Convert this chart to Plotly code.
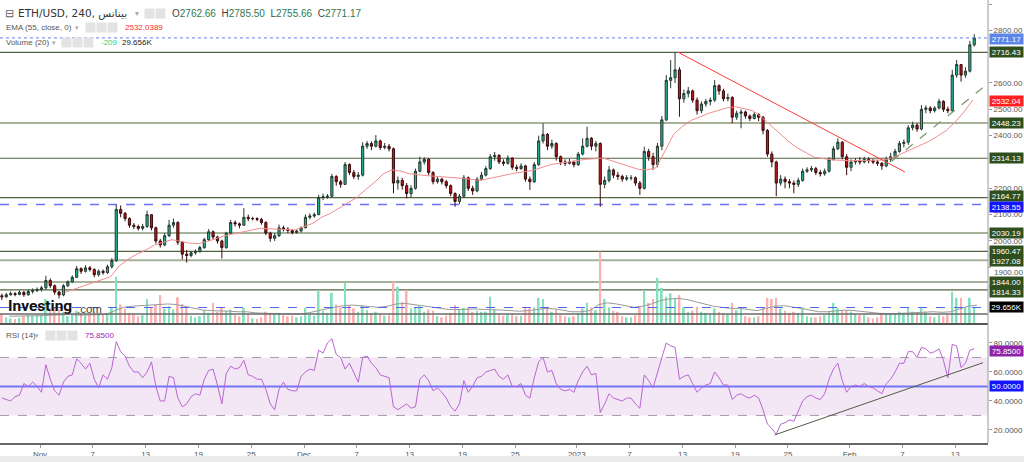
import plotly.graph_objects as go
import pandas as pd

# ---------------- data (12h candles) ----------------
first_open = 1792
closes = [
    1788,
    1796, 1800, 1797, 1805, 1796, 1808, 1812, 1816,                     # Oct 28-31
    1822, 1850, 1830, 1806, 1795, 1830, 1845, 1862, 1895, 1885,         # Nov 1-5
    1898, 1892, 1872, 1885, 1880, 1902, 1926, 2120, 2105, 2085,         # Nov 6-10
    2060, 2055, 2048, 2055, 2100, 2050, 2000, 1985, 2020, 2060,         # Nov 11-15
    2070, 1995, 1950, 1945, 1955, 1960, 1975, 2005, 2035, 2015,         # Nov 16-20
    2000, 1975, 2030, 2070, 2065, 2060, 2090, 2085, 2085, 2082,         # Nov 21-25
    2070, 2030, 2010, 2020, 2050, 2045, 2040, 2032, 2038, 2050,         # Nov 26-30
    2090, 2095, 2100, 2165, 2168, 2170, 2245, 2225, 2215, 2290,         # Dec 1-5
    2260, 2245, 2250, 2360, 2370, 2360, 2380, 2355, 2360, 2350,         # Dec 6-10
    2220, 2230, 2210, 2180, 2200, 2265, 2300, 2310, 2260, 2225,         # Dec 11-15
    2235, 2225, 2210, 2180, 2150, 2170, 2240, 2200, 2190, 2235,         # Dec 16-20
    2250, 2275, 2320, 2325, 2300, 2295, 2315, 2280, 2275, 2285,         # Dec 21-25
    2235, 2225, 2290, 2380, 2405, 2360, 2370, 2320, 2300, 2295,         # Dec 26-30
    2300, 2290, 2330, 2360, 2390, 2360, 2370, 2215, 2230, 2270,         # Dec 31-Jan 4
    2250, 2245, 2235, 2240, 2240, 2220, 2200, 2340, 2320, 2290,         # Jan 5-9
    2360, 2460, 2610, 2620, 2650, 2540, 2560, 2570, 2535, 2495,         # Jan 10-14
    2520, 2530, 2535, 2590, 2570, 2540, 2545, 2470, 2485, 2490,         # Jan 15-19
    2475, 2465, 2480, 2470, 2420, 2330, 2300, 2220, 2235, 2225,         # Jan 20-24
    2220, 2215, 2230, 2265, 2270, 2275, 2260, 2255, 2265, 2310,         # Jan 25-29
    2350, 2375, 2320, 2280, 2300, 2305, 2300, 2310, 2305, 2300,         # Jan 30-Feb 3
    2295, 2285, 2310, 2320, 2340, 2370, 2375, 2430, 2440, 2425,         # Feb 4-8
    2500, 2505, 2495, 2505, 2530, 2500, 2495, 2630, 2670, 2630,         # Feb 9-13
    2645, 2745, 2771.17,                                                # Feb 14-15
]
highs = [
    1800,
    1803, 1808, 1806, 1812, 1810, 1815, 1820, 1824,
    1830, 1868, 1858, 1835, 1810, 1836, 1850, 1870, 1905, 1900,
    1908, 1905, 1895, 1892, 1892, 1910, 1935, 2137, 2135, 2110,
    2090, 2068, 2062, 2065, 2115, 2102, 2055, 2008, 2030, 2080,
    2085, 2075, 2000, 1965, 1962, 1968, 1982, 2012, 2045, 2040,
    2020, 2005, 2035, 2080, 2078, 2070, 2125, 2100, 2092, 2090,
    2088, 2075, 2035, 2030, 2062, 2058, 2052, 2045, 2045, 2055,
    2100, 2105, 2108, 2175, 2180, 2178, 2255, 2250, 2232, 2300,
    2295, 2270, 2262, 2375, 2380, 2378, 2402, 2385, 2372, 2368,
    2355, 2245, 2240, 2220, 2212, 2275, 2320, 2318, 2315, 2265,
    2245, 2240, 2232, 2215, 2185, 2178, 2250, 2245, 2210, 2242,
    2262, 2285, 2330, 2338, 2330, 2310, 2325, 2318, 2290, 2295,
    2290, 2245, 2300, 2400, 2447, 2410, 2385, 2375, 2325, 2310,
    2312, 2305, 2338, 2390, 2434, 2395, 2380, 2375, 2245, 2285,
    2275, 2262, 2252, 2250, 2250, 2245, 2228, 2358, 2350, 2335,
    2372, 2475, 2630, 2687, 2717, 2660, 2575, 2585, 2575, 2545,
    2530, 2540, 2545, 2611, 2595, 2578, 2560, 2550, 2495, 2500,
    2495, 2480, 2490, 2485, 2475, 2425, 2340, 2305, 2250, 2245,
    2235, 2230, 2240, 2275, 2280, 2285, 2282, 2270, 2275, 2318,
    2360, 2390, 2380, 2330, 2310, 2315, 2318, 2320, 2318, 2312,
    2308, 2300, 2320, 2335, 2350, 2380, 2385, 2440, 2453, 2448,
    2516, 2515, 2512, 2512, 2540, 2535, 2510, 2650, 2687, 2672,
    2660, 2760, 2785.5,
]
lows = [
    1776,
    1784, 1792, 1790, 1794, 1788, 1792, 1800, 1806,
    1808, 1815, 1822, 1796, 1782, 1790, 1825, 1840, 1860, 1875,
    1880, 1884, 1862, 1865, 1872, 1875, 1895, 1920, 2090, 2075,
    2050, 2045, 2040, 2040, 2050, 2040, 1990, 1975, 1980, 2015,
    2050, 1985, 1930, 1918, 1938, 1948, 1955, 1970, 2000, 2005,
    1990, 1934, 1970, 2025, 2055, 2048, 2058, 2075, 2078, 2075,
    2062, 2022, 1997, 2000, 2015, 2036, 2030, 2025, 2028, 2032,
    2048, 2082, 2088, 2098, 2155, 2160, 2165, 2210, 2202, 2212,
    2250, 2235, 2232, 2245, 2350, 2345, 2355, 2345, 2348, 2340,
    2181, 2195, 2195, 2162, 2165, 2195, 2260, 2290, 2250, 2215,
    2218, 2215, 2200, 2170, 2130, 2140, 2165, 2190, 2175, 2185,
    2230, 2245, 2270, 2305, 2292, 2285, 2290, 2270, 2265, 2270,
    2225, 2194, 2220, 2285, 2370, 2345, 2350, 2305, 2288, 2285,
    2290, 2280, 2285, 2325, 2355, 2345, 2340, 2130, 2200, 2222,
    2238, 2232, 2225, 2228, 2230, 2210, 2175, 2195, 2305, 2270,
    2280, 2345, 2455, 2580, 2600, 2472, 2525, 2545, 2525, 2480,
    2485, 2510, 2515, 2528, 2555, 2530, 2530, 2447, 2460, 2428,
    2465, 2455, 2462, 2455, 2405, 2320, 2280, 2170, 2210, 2200,
    2200, 2181, 2205, 2225, 2258, 2262, 2250, 2245, 2248, 2260,
    2305, 2345, 2310, 2250, 2265, 2290, 2290, 2295, 2295, 2292,
    2285, 2270, 2280, 2300, 2315, 2335, 2355, 2365, 2420, 2415,
    2420, 2485, 2485, 2488, 2500, 2490, 2485, 2490, 2620, 2605,
    2620, 2640, 2738,
]
volumes_k = [
    18,
    12, 10, 9, 11, 14, 16, 15, 17,
    16, 45, 28, 30, 26, 22, 14, 16, 24, 18,
    15, 17, 22, 20, 16, 20, 30, 85, 35, 28,
    20, 18, 14, 16, 45, 30, 35, 52, 28, 32,
    26, 48, 36, 30, 15, 12, 14, 25, 20, 38,
    22, 29, 24, 26, 16, 14, 29, 18, 10, 9,
    12, 22, 20, 18, 20, 16, 14, 15, 12, 14,
    29, 18, 15, 61, 24, 20, 56, 35, 30, 74,
    34, 28, 22, 34, 25, 20, 22, 18, 15, 16,
    76, 67, 40, 61, 28, 30, 32, 22, 26, 24,
    14, 12, 15, 20, 34, 25, 29, 29, 22, 24,
    22, 22, 49, 26, 18, 15, 16, 18, 14, 15,
    31, 28, 30, 47, 45, 30, 22, 26, 16, 14,
    12, 14, 20, 28, 38, 30, 25, 130, 45, 30,
    24, 22, 14, 12, 12, 16, 31, 61, 38, 45,
    83, 65, 49, 55, 45, 52, 30, 22, 24, 31,
    22, 20, 18, 28, 22, 20, 18, 38, 25, 28,
    14, 12, 12, 14, 30, 47, 45, 47, 28, 24,
    20, 22, 20, 30, 14, 12, 12, 14, 16, 24,
    38, 28, 25, 25, 22, 18, 16, 16, 12, 10,
    12, 20, 18, 20, 18, 22, 20, 29, 22, 20,
    29, 22, 14, 12, 16, 14, 16, 58, 47, 47,
    30, 47, 30,
]
rsi_values = [
    42, 41, 40, 43, 44, 52, 50, 53, 50, 46,
    65, 55, 47, 44, 53, 57, 58, 69, 66, 62,
    66, 55, 49, 58, 55, 63, 81, 74, 71, 64,
    60, 60, 56, 60, 67, 50, 40, 40, 57, 56,
    42, 36, 38, 43, 45, 44, 55, 61, 62, 51,
    38, 59, 64, 62, 63, 68, 58, 57, 55, 55,
    48, 38, 34, 48, 53, 48, 47, 47, 57, 60,
    62, 61, 75, 73, 80, 83, 72, 70, 62, 66,
    60, 53, 70, 71, 66, 63, 58, 57, 56, 36,
    34, 36, 38, 35, 36, 55, 58, 54, 47, 49,
    46, 42, 36, 33, 38, 54, 46, 50, 56, 57,
    60, 61,
    62, 57, 55, 58, 50, 50, 52, 44, 42, 56,
    67, 70, 60, 61, 52, 48, 47, 48, 46, 54,
    60, 64, 58, 59, 32, 38, 45, 42, 41, 40,
    42, 42, 38, 35, 58, 54, 49, 60, 70, 80,
    78, 77, 55, 57, 58, 52, 46, 49, 51, 52,
    60, 56, 51, 51, 41, 44, 45, 43, 42, 44,
    42, 34, 24, 21, 17, 24, 25, 27, 26, 33,
    40, 43, 44, 42, 41, 45, 55, 62, 66, 54,
    46, 50, 51, 50, 52, 50, 49, 47, 45, 52,
    55, 60, 66, 66, 74, 74, 70, 77, 76, 73,
    74, 76, 68, 56, 79, 78, 63, 66, 75, 76,
]
vol_ma_k = [
    14, 14, 14, 14,
    15, 16, 17, 17, 16, 16, 17, 17,
    24, 30, 32, 33, 34, 35, 36, 35,
    32, 28, 25, 24, 24, 23, 22, 22,
    20, 19, 19, 18, 18, 18,
    20, 24, 27, 30, 33, 34, 33, 32,
    30, 32, 36, 37, 35, 32, 30, 28,
    26, 26, 27, 27, 26, 26, 25, 24,
    23, 24, 26, 28, 27, 24, 22,
    22, 24, 35, 38, 36, 33, 30, 32,
    36, 42, 45, 46, 44, 40, 36, 32,
    30, 28, 28, 26, 24, 28, 32, 33,
    31, 28, 25, 22, 22, 24, 25,
    24, 22, 20, 19, 18, 19, 20, 21,
    22, 22, 21, 22, 27, 32, 34,
]
ema_dates = [
    "2023-11-03 20:00", "2023-11-06 00:00", "2023-11-08 00:00", "2023-11-09 00:00", "2023-11-10 00:00",
    "2023-11-11 00:00", "2023-11-12 00:00", "2023-11-13 00:00", "2023-11-14 00:00", "2023-11-15 00:00",
    "2023-11-16 00:00", "2023-11-17 00:00", "2023-11-18 00:00", "2023-11-19 00:00", "2023-11-20 00:00",
    "2023-11-22 00:00", "2023-11-24 00:00", "2023-11-26 00:00", "2023-11-28 00:00", "2023-11-30 00:00",
    "2023-12-02 00:00", "2023-12-03 00:00", "2023-12-04 00:00", "2023-12-05 00:00", "2023-12-06 00:00",
    "2023-12-07 00:00", "2023-12-08 00:00", "2023-12-09 00:00", "2023-12-10 00:00", "2023-12-11 00:00",
    "2023-12-12 00:00", "2023-12-13 00:00", "2023-12-15 00:00", "2023-12-17 00:00", "2023-12-19 00:00",
    "2023-12-21 00:00", "2023-12-23 00:00", "2023-12-25 00:00", "2023-12-27 00:00", "2023-12-29 00:00",
    "2023-12-31 00:00", "2024-01-02 00:00", "2024-01-04 00:00", "2024-01-06 00:00", "2024-01-08 00:00",
    "2024-01-09 00:00", "2024-01-10 00:00", "2024-01-11 00:00", "2024-01-12 00:00", "2024-01-13 00:00",
    "2024-01-14 00:00", "2024-01-16 00:00", "2024-01-18 00:00", "2024-01-19 00:00", "2024-01-21 00:00",
    "2024-01-22 00:00", "2024-01-23 00:00", "2024-01-24 00:00", "2024-01-25 00:00", "2024-01-26 00:00",
    "2024-01-28 00:00", "2024-01-30 00:00", "2024-02-01 00:00", "2024-02-03 00:00", "2024-02-05 00:00",
    "2024-02-06 00:00", "2024-02-07 00:00", "2024-02-08 00:00", "2024-02-09 00:00", "2024-02-10 00:00",
    "2024-02-11 00:00", "2024-02-12 00:00", "2024-02-13 00:00", "2024-02-14 00:00", "2024-02-15 00:00",
]
ema_values = [
    1805, 1830, 1852, 1864, 1905, 1930, 1950, 1965, 1985, 1996,
    2005, 1998, 1992, 1990, 1998, 2020, 2035, 2048, 2045, 2042,
    2067, 2090, 2105, 2125, 2145, 2165, 2195, 2222, 2255, 2270,
    2265, 2255, 2248, 2244, 2238, 2230, 2245, 2258, 2268, 2290,
    2300, 2310, 2315, 2293, 2272, 2270, 2278, 2340, 2405, 2435,
    2458, 2485, 2505, 2510, 2495, 2470, 2440, 2410, 2380, 2355,
    2318, 2308, 2305, 2306, 2308, 2318, 2333, 2350, 2362, 2378,
    2398, 2420, 2452, 2490, 2535,
]
levels_dark = [2716.43, 2314.13, 2164.77, 1960.47, 1814.33]
levels_light = [2448.23, 2030.19, 1927.08, 1844.00]
blue_level = 2138.55
last_price = 2771.17
ema_last = 2532.04
vol_last = 29.656
rsi_last = 75.85
red_trend_x = ["2024-01-12 12:00", "2024-02-07 07:00"]
red_trend_y = [2717, 2262]
green_trend_x = ["2024-02-05 19:00", "2024-02-16 12:00"]
green_trend_y = [2303, 2592]
rsi_trend_x = ["2024-01-23 12:00", "2024-02-16 04:00"]
rsi_trend_y = [16.6, 66.4]
tick_dates = ["2023-11-01", "2023-11-07", "2023-11-13", "2023-11-19", "2023-11-25",
              "2023-12-01", "2023-12-07", "2023-12-13", "2023-12-19", "2023-12-25",
              "2024-01-01", "2024-01-07", "2024-01-13", "2024-01-19", "2024-01-25",
              "2024-02-01", "2024-02-07", "2024-02-13"]
tick_text = ["Nov", "7", "13", "19", "25", "Dec", "7", "13", "19", "25",
             "2023", "7", "13", "19", "25", "Feb", "7", "13"]
# price ticks that are not hidden behind the level labels
price_ticks = [2000, 2100, 2200, 2400, 2500, 2600, 2800, 2900]
partly_hidden_tick = 1900
rsi_ticks = [20, 40, 60, 80]

# ---------------- build ----------------
n = len(closes)
assert len(highs) == n and len(lows) == n and len(volumes_k) == n and len(rsi_values) == n, \
    (n, len(highs), len(lows), len(volumes_k), len(rsi_values))
assert len(ema_dates) == len(ema_values)

def to_dt(lst):
    return pd.to_datetime(lst, format="ISO8601")

times = pd.date_range("2023-10-27 16:00", periods=n, freq="12h")
opens = [first_open] + closes[:-1]
hi = [max(h, o, c) for h, o, c in zip(highs, opens, closes)]
lo = [min(l, o, c) for l, o, c in zip(lows, opens, closes)]
vol_colors = ["#86dfbd" if c >= o else "#f9b1b1" for o, c in zip(opens, closes)]
ma_times = pd.date_range("2023-10-28 12:00", periods=len(vol_ma_k), freq="D")

W, H = 988.0, 443.0
def px(x):
    return x / W
def py(y):
    return 1 - y / H

FONT = "Liberation Sans, Arial, sans-serif"
DARK_GREEN = "#2f4f1f"

fig = go.Figure()
fig.add_trace(go.Candlestick(
    x=times, open=opens, high=hi, low=lo, close=closes, xaxis="x", yaxis="y",
    increasing=dict(line=dict(color="#26392f", width=1), fillcolor="#25b496"),
    decreasing=dict(line=dict(color="#3a0d0d", width=1), fillcolor="#c1161b"),
    whiskerwidth=0, showlegend=False, hoverinfo="skip"))
fig.add_trace(go.Scatter(x=to_dt(ema_dates), y=ema_values, mode="lines",
                         line=dict(color="#f38c8c", width=1), yaxis="y", hoverinfo="skip"))
fig.add_trace(go.Scatter(x=to_dt(red_trend_x), y=red_trend_y, mode="lines",
                         line=dict(color="#ff3b3b", width=1), yaxis="y", hoverinfo="skip"))
fig.add_trace(go.Scatter(x=to_dt(green_trend_x), y=green_trend_y, mode="lines",
                         line=dict(color="#7f9a70", width=1.3, dash="dash"), yaxis="y", hoverinfo="skip"))
fig.add_trace(go.Bar(x=times, y=volumes_k, marker=dict(color=vol_colors, line=dict(width=0)),
                     width=12 * 3600 * 1000 * 0.4, yaxis="y3", hoverinfo="skip"))
fig.add_trace(go.Scatter(x=ma_times, y=vol_ma_k, mode="lines",
                         line=dict(color="#9a9a9a", width=1), yaxis="y3", hoverinfo="skip"))
fig.add_trace(go.Scatter(x=times, y=rsi_values, mode="lines",
                         line=dict(color="#b866d2", width=1), yaxis="y2", hoverinfo="skip"))
fig.add_trace(go.Scatter(x=to_dt(rsi_trend_x), y=rsi_trend_y, mode="lines",
                         line=dict(color="#4e5e44", width=1), yaxis="y2", hoverinfo="skip"))

shapes = []
for lv in levels_light:
    shapes.append(dict(type="line", xref="paper", x0=0, x1=1, yref="y", y0=lv, y1=lv,
                       line=dict(color="#a7b29a", width=2), layer="below"))
for lv in levels_dark:
    shapes.append(dict(type="line", xref="paper", x0=0, x1=1, yref="y", y0=lv, y1=lv,
                       line=dict(color="#52663f", width=1.2), layer="below"))
shapes.append(dict(type="line", xref="paper", x0=0, x1=1, yref="y", y0=blue_level, y1=blue_level,
                   line=dict(color="#6f6fff", width=1.5, dash="dash"), layer="below"))
shapes.append(dict(type="line", xref="paper", x0=0, x1=1, yref="y", y0=last_price, y1=last_price,
                   line=dict(color="#5d82e6", width=1, dash="dot")))
shapes.append(dict(type="line", xref="paper", x0=0, x1=1, yref="y3", y0=vol_last, y1=vol_last,
                   line=dict(color="#5566ee", width=1.2, dash="dash")))
# tick mark for the partly hidden price tick
shapes.append(dict(type="line", xref="paper", x0=1, x1=1 + 3 / W, yref="y",
                   y0=partly_hidden_tick, y1=partly_hidden_tick, line=dict(color="#999", width=1)))
# RSI band and guides
shapes.append(dict(type="rect", xref="paper", x0=0, x1=1, yref="y2", y0=30, y1=70,
                   fillcolor="#f3e6f5", line=dict(width=0), layer="below"))
for lv in (30, 70):
    shapes.append(dict(type="line", xref="paper", x0=0, x1=1, yref="y2", y0=lv, y1=lv,
                       line=dict(color="#a99aa9", width=1, dash="dash"), layer="below"))
shapes.append(dict(type="line", xref="paper", x0=0, x1=1, yref="y2", y0=50, y1=50,
                   line=dict(color="#7474f6", width=2), layer="below"))
# pane separators and borders
shapes.append(dict(type="line", xref="paper", x0=0, x1=1, yref="paper", y0=py(314), y1=py(314),
                   line=dict(color="#6a6a6a", width=1.5)))
shapes.append(dict(type="line", xref="paper", x0=0, x1=1, yref="paper", y0=py(324), y1=py(324),
                   line=dict(color="#555555", width=2)))
shapes.append(dict(type="line", xref="paper", x0=1, x1=1, yref="paper", y0=0, y1=1,
                   line=dict(color="#9a9a9a", width=1)))
shapes.append(dict(type="rect", xref="paper", x0=0, x1=1024 / W, yref="paper", y0=py(456), y1=py(463),
                   fillcolor="#ebebeb", line=dict(width=0)))

ann = []
# partly hidden "1900.00" tick text, sitting just under the 1927.08 label
ann.append(dict(xref="paper", x=1, xanchor="left", xshift=4, yref="paper", y=py(265.5),
                yanchor="top", text=f"{partly_hidden_tick:.2f}", showarrow=False,
                font=dict(family=FONT, size=8, color="#555")))

def label(yval, text, bg, yref="y", shift=0):
    ann.append(dict(xref="paper", x=1, xanchor="left", xshift=1, yref=yref, y=yval, yanchor="middle",
                    yshift=shift, text=text, showarrow=False, bgcolor=bg, width=33, height=10,
                    borderpad=0, font=dict(family=FONT, size=8, color="white"), align="center"))

label_shift = {2716.43: 0, 2314.13: 0, 2164.77: 1.5, 1960.47: 0.5, 1814.33: -2.5,
               2448.23: 0, 2030.19: 0, 1927.08: -1, 1844.00: 0.5}
label(last_price, f"{last_price:.2f}", "#5b86e8", shift=-1)
for lv in levels_dark + levels_light:
    label(lv, f"{lv:.2f}", DARK_GREEN, shift=label_shift[lv])
label(ema_last, f"{ema_last:.2f}", "#ff1f1f")
label(blue_level, f"{blue_level:.2f}", "#1414ff", shift=-2)
label(vol_last, f"{vol_last:.3f}K", "#000000", yref="y3")
label(rsi_last, f"{rsi_last:.4f}", "#8e24aa", yref="y2", shift=-1.5)
label(50, "50.0000", "#1414ff", yref="y2")

def txt(x, y, text, size=8, color="#555", family=FONT):
    ann.append(dict(xref="paper", yref="paper", x=px(x), y=py(y), xanchor="left", yanchor="middle",
                    text=text, showarrow=False, font=dict(family=family, size=size, color=color)))

def icon(x, y):
    ann.append(dict(xref="paper", yref="paper", x=px(x), y=py(y), xanchor="left", yanchor="middle",
                    text=" ", showarrow=False, bgcolor="#e3e3e3", width=9, height=9, borderpad=0,
                    font=dict(size=6)))

# top-left legend
txt(3, 13, "⊟", size=11, color="#666")
txt(16, 13, "ETH/USD, 240, بينانس", size=10.5, color="#333", family="DejaVu Sans, " + FONT)
txt(133, 13, "▾", size=8, color="#aaa")
icon(144, 13); icon(155, 13)
g = "#2e7a4e"
txt(170, 13, f"O<span style='color:{g}'>2762.66</span>  H<span style='color:{g}'>2785.50</span>  "
             f"L<span style='color:{g}'>2755.66</span>  C<span style='color:{g}'>2771.17</span>",
    size=10, color="#444")
txt(4, 28, "EMA (55, close, 0)", size=8, color="#555")
txt(73, 28, "▾", size=7, color="#aaa")
icon(85, 28); icon(96, 28); icon(107, 28)
txt(123, 28, "2532.0389", size=8, color="#ff2a2a")
txt(4, 42, "Volume (20)", size=8, color="#555")
txt(50, 42, "▾", size=7, color="#aaa")
icon(61, 42); icon(72, 42); icon(83, 42)
txt(99, 42, "-209", size=8, color="#2bcf78")
txt(120, 42, "29.656K", size=8, color="#222")
txt(4, 335, "RSI (14)", size=8, color="#555")
txt(33, 335, "▾", size=7, color="#aaa")
icon(45, 335); icon(56, 335); icon(67, 335)
txt(83, 335, "75.8500", size=8, color="#9c27b0")
# watermark
txt(6, 306, "<b>Investing</b>", size=15.5, color="#111", family="Roboto, " + FONT)
txt(75, 308.5, ".com", size=11.5, color="#444")

fig.update_layout(
    width=1024, height=462,
    margin=dict(l=0, r=36, t=0, b=19),
    paper_bgcolor="white", plot_bgcolor="white",
    showlegend=False, hovermode=False,
    font=dict(family=FONT, size=8, color="#555"),
    xaxis=dict(type="date", range=["2023-10-27 10:54", "2024-02-16 17:30"],
               tickvals=to_dt(tick_dates), ticktext=tick_text,
               showgrid=False, zeroline=False, showline=True, linecolor="#666", linewidth=1.5,
               ticks="outside", ticklen=3, tickcolor="#999", anchor="y2",
               tickfont=dict(family=FONT, size=8, color="#555"),
               rangeslider=dict(visible=False), fixedrange=True),
    yaxis=dict(domain=[py(324), 1], range=[1684.7, 2915.2], side="right", anchor="x",
               tickvals=price_ticks, ticktext=[f"{v:.2f}" for v in price_ticks],
               showgrid=False, zeroline=False, showline=False, ticks="outside", ticklen=3,
               tickcolor="#999", tickfont=dict(family=FONT, size=8, color="#555")),
    yaxis2=dict(domain=[0, py(324)], range=[11.0, 93.1], side="right", anchor="x",
                tickvals=rsi_ticks, ticktext=[f"{v:.4f}" for v in rsi_ticks],
                showgrid=False, zeroline=False, showline=False, ticks="outside", ticklen=3,
                tickcolor="#999", tickfont=dict(family=FONT, size=8, color="#555")),
    yaxis3=dict(overlaying="y", range=[0, 582], visible=False, anchor="x"),
    shapes=shapes, annotations=ann,
)

fig.write_html("out.html")
